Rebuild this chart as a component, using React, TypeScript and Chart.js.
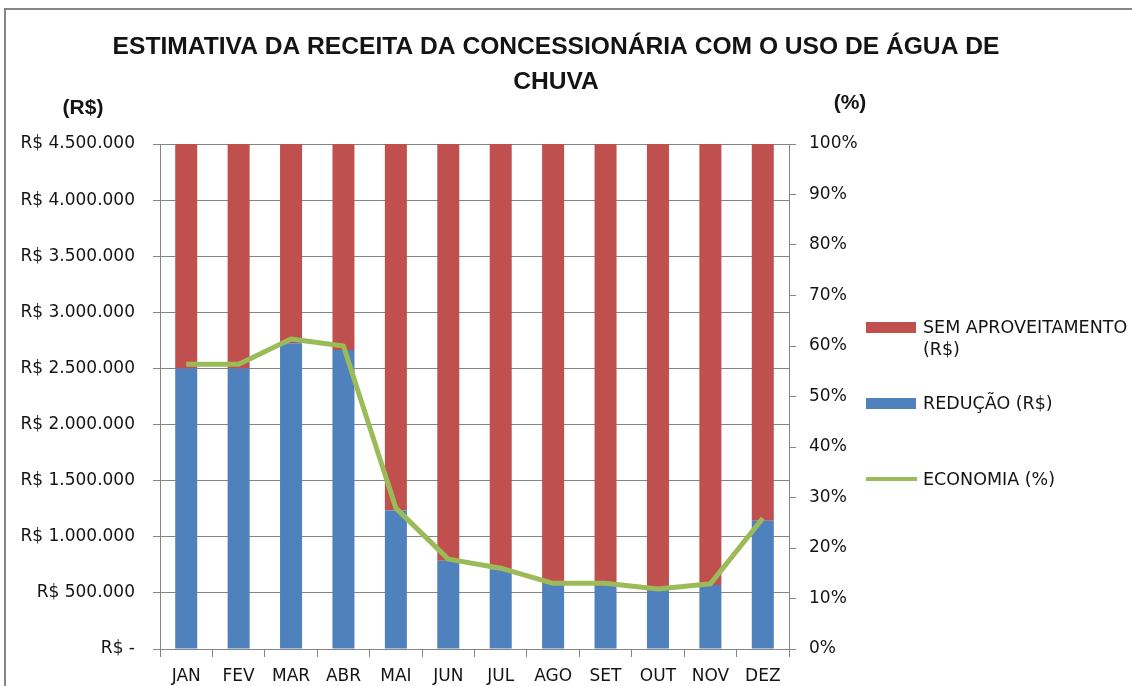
import React, { useEffect, useRef } from 'react';
import { Chart, registerables } from 'chart.js';

Chart.register(...registerables);

const months = ['JAN', 'FEV', 'MAR', 'ABR', 'MAI', 'JUN', 'JUL', 'AGO', 'SET', 'OUT', 'NOV', 'DEZ'];
const reducao = [2500000, 2500000, 2725000, 2665000, 1235000, 787000, 710000, 580000, 562000, 550000, 570000, 1142000];
const semAproveitamento = [4430000, 4430000, 4440000, 4440000, 4420000, 4420000, 4440000, 4450000, 4320000, 4620000, 4420000, 4410000];
const economia = [56.4, 56.4, 61.4, 60.0, 27.9, 17.8, 16.0, 13.0, 13.0, 11.9, 12.9, 25.9];
const titleLines = ['ESTIMATIVA DA RECEITA DA CONCESSIONÁRIA COM O USO DE ÁGUA DE', 'CHUVA'];
const leftAxisTitle = '(R$)';
const rightAxisTitle = '(%)';
const legendSem = ['SEM APROVEITAMENTO', '(R$)'];
const legendReducao = ['REDUÇÃO (R$)'];
const legendEconomia = ['ECONOMIA (%)'];

const RED = '#C0504D';
const BLUE = '#4F81BD';
const GREEN = '#9BBB59';
const GRID = '#858585';
const TEXT = '#141414';
const FONT = '"DejaVu Sans", sans-serif';

function formatReais(v: number): string {
  if (v === 0) return 'R$ -';
  return 'R$ ' + Math.round(v).toString().replace(/\B(?=(\d{3})+(?!\d))/g, '.');
}

const decorPlugin = {
  id: 'decor',
  beforeDraw(chart: any) {
    const ctx = chart.ctx as CanvasRenderingContext2D;
    ctx.save();
    ctx.fillStyle = '#ffffff';
    ctx.fillRect(0, 0, chart.width, chart.height);
    ctx.strokeStyle = '#868686';
    ctx.lineWidth = 2;
    ctx.beginPath();
    ctx.moveTo(5, chart.height);
    ctx.lineTo(5, 9);
    ctx.lineTo(chart.width, 9);
    ctx.stroke();
    ctx.restore();
  },
  afterDraw(chart: any) {
    const ctx = chart.ctx as CanvasRenderingContext2D;
    ctx.save();
    ctx.fillStyle = TEXT;
    ctx.textBaseline = 'middle';
    // title
    ctx.textAlign = 'center';
    ctx.font = 'bold 24.6px "Liberation Sans", sans-serif';
    ctx.fillText(titleLines[0], 556, 47);
    ctx.fillText(titleLines[1], 556, 82);
    // axis titles
    ctx.font = 'bold 21px "Liberation Sans", sans-serif';
    ctx.fillText(leftAxisTitle, 83, 108);
    ctx.fillText(rightAxisTitle, 850, 103);
    // legend
    const lx = 866;
    const tx = 923;
    ctx.font = '17.5px ' + FONT;
    ctx.textAlign = 'left';
    ctx.fillStyle = RED;
    ctx.fillRect(lx, 322, 50, 11);
    ctx.fillStyle = TEXT;
    ctx.fillText(legendSem[0], tx, 328);
    ctx.fillText(legendSem[1], tx, 350);
    ctx.fillStyle = BLUE;
    ctx.fillRect(lx, 398, 50, 11);
    ctx.fillStyle = TEXT;
    ctx.fillText(legendReducao[0], tx, 404);
    ctx.strokeStyle = GREEN;
    ctx.lineWidth = 4;
    ctx.beginPath();
    ctx.moveTo(lx, 479);
    ctx.lineTo(lx + 51, 479);
    ctx.stroke();
    ctx.fillText(legendEconomia[0], tx, 480);
    ctx.restore();
  },
};

export default function App() {
  const canvasRef = useRef<HTMLCanvasElement | null>(null);

  useEffect(() => {
    if (!canvasRef.current) return;
    const chart = new Chart(canvasRef.current, {
      type: 'bar',
      data: {
        labels: months,
        datasets: [
          {
            type: 'bar',
            label: 'REDUÇÃO (R$)',
            data: reducao,
            backgroundColor: BLUE,
            yAxisID: 'y',
            stack: 's',
            order: 1,
            barPercentage: 0.42,
            categoryPercentage: 1,
          },
          {
            type: 'bar',
            label: 'SEM APROVEITAMENTO (R$)',
            data: semAproveitamento,
            backgroundColor: RED,
            yAxisID: 'y',
            stack: 's',
            order: 1,
            barPercentage: 0.42,
            categoryPercentage: 1,
          },
          {
            type: 'line',
            label: 'ECONOMIA (%)',
            data: economia,
            borderColor: GREEN,
            backgroundColor: GREEN,
            borderWidth: 5,
            pointRadius: 0,
            tension: 0,
            borderJoinStyle: 'round',
            yAxisID: 'y1',
            order: 0,
          } as any,
        ],
      },
      options: {
        responsive: false,
        animation: false,
        layout: { padding: { left: 0, right: 0, top: 144, bottom: 0 } },
        plugins: {
          legend: { display: false },
          title: { display: false },
          tooltip: { enabled: false },
        },
        scales: {
          x: {
            stacked: true,
            offset: true,
            grid: {
              offset: true,
              drawOnChartArea: false,
              drawTicks: true,
              tickLength: 8,
              color: GRID,
            },
            border: { display: true, color: GRID },
            ticks: {
              color: TEXT,
              font: { family: FONT, size: 17 },
              padding: 9,
              maxRotation: 0,
              autoSkip: false,
            },
            afterFit(scale: any) {
              scale.height = 37;
            },
          },
          y: {
            stacked: true,
            position: 'left',
            min: 0,
            max: 4500000,
            grid: { color: GRID, tickLength: 7, drawTicks: true },
            border: { display: true, color: GRID },
            ticks: {
              stepSize: 500000,
              color: TEXT,
              font: { family: FONT, size: 17 },
              padding: 18,
              callback: (v: any) => formatReais(Number(v)),
            },
            afterFit(scale: any) {
              scale.width = 160;
            },
          },
          y1: {
            position: 'right',
            min: 0,
            max: 100,
            grid: { drawOnChartArea: false, color: GRID, tickLength: 7 },
            border: { display: true, color: GRID },
            ticks: {
              stepSize: 10,
              color: TEXT,
              font: { family: FONT, size: 17 },
              padding: 13,
              callback: (v: any) => v + '%',
            },
            afterFit(scale: any) {
              scale.width = 343;
            },
          },
        },
      },
      plugins: [decorPlugin],
    });
    return () => chart.destroy();
  }, []);

  return (
    <div style={{ position: 'fixed', left: 0, top: 0, width: 1132, height: 686, background: '#fff' }}>
      <canvas ref={canvasRef} width={1132} height={686} style={{ display: 'block', width: 1132, height: 686 }} />
    </div>
  );
}
